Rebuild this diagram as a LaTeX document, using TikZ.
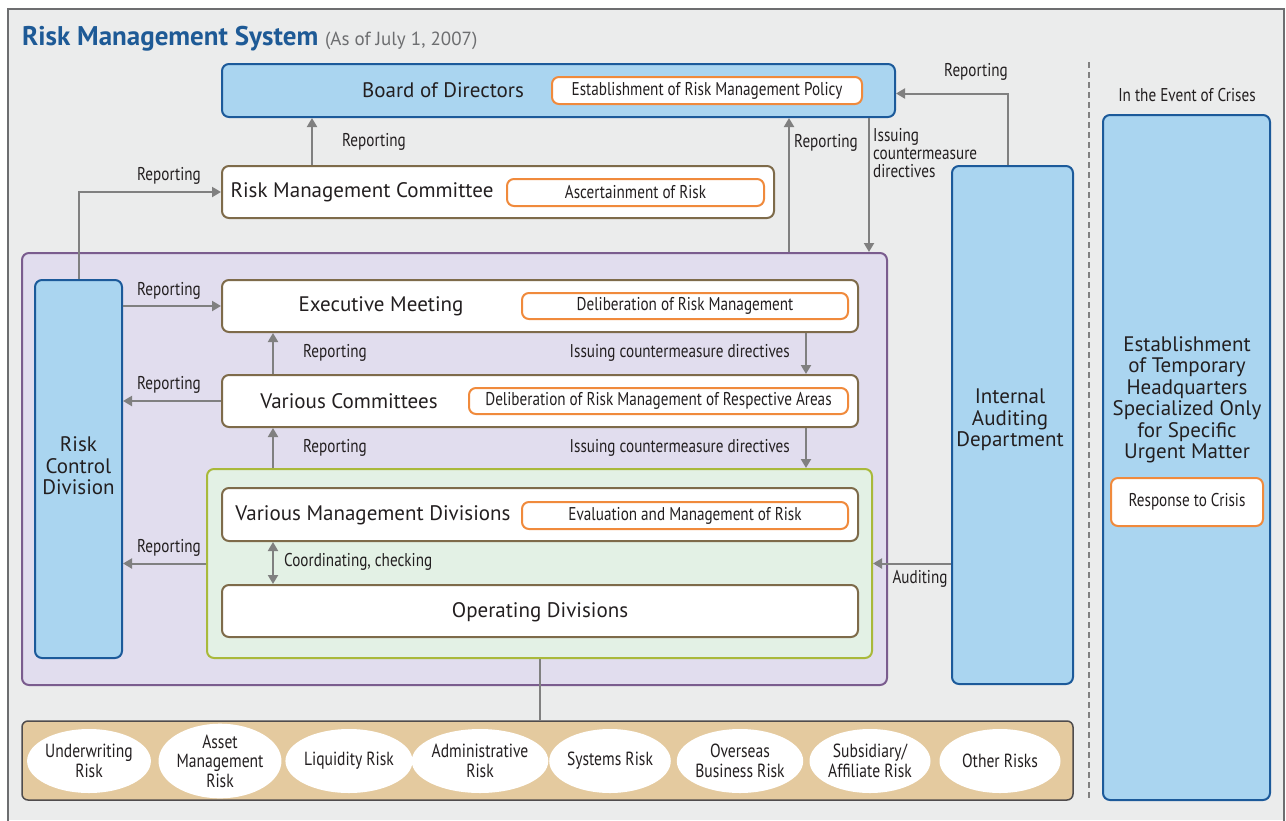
\documentclass[tikz,border=0pt]{standalone}
\usepackage{fontspec}
\setmainfont{PT Sans}
\newfontfamily\narrowfont[FakeStretch=0.82]{PT Sans}
\usetikzlibrary{arrows.meta}
\definecolor{pagegrey}{HTML}{EBECEC}
\definecolor{framegrey}{HTML}{6D6E70}
\definecolor{titleblue}{HTML}{1E5A96}
\definecolor{blueF}{HTML}{AAD5F0}
\definecolor{blueD}{HTML}{1C5A9A}
\definecolor{brownD}{HTML}{7E6B4A}
\definecolor{orangeD}{HTML}{F08A3C}
\definecolor{purpleF}{HTML}{E1DDEE}
\definecolor{purpleD}{HTML}{7A5C8E}
\definecolor{greenF}{HTML}{E3F1E5}
\definecolor{greenD}{HTML}{A9B93A}
\definecolor{tanF}{HTML}{E4CA9F}
\definecolor{arrgrey}{HTML}{808080}
\definecolor{inkD}{HTML}{231F20}
\tikzset{
  box/.style={rounded corners=7pt, line width=2pt, inner sep=0pt},
  bluebox/.style={box, fill=blueF, draw=blueD},
  whitebox/.style={box, fill=white, draw=brownD},
  tagbox/.style={box, fill=white, draw=orangeD, text=inkD,
    font=\narrowfont\fontsize{18.5}{20}\selectfont},
  bigtext/.style={text=inkD, inner sep=0pt, align=center,
    font=\fontsize{21}{21.5}\selectfont},
  lbl/.style={text=inkD, inner sep=0pt, align=left,
    font=\narrowfont\fontsize{18.5}{20}\selectfont},
  riskball/.style={ellipse, fill=white, inner sep=0pt, minimum width=121pt,
    minimum height=64pt, align=center, text=inkD,
    font=\narrowfont\fontsize{19}{19.5}\selectfont},
  arr/.style={draw=arrgrey, line width=2pt, -{Triangle[length=9pt,width=10pt]}},
  arrtwo/.style={draw=arrgrey, line width=2pt,
    {Triangle[length=9pt,width=10pt]}-{Triangle[length=9pt,width=10pt]}},
  link/.style={draw=arrgrey, line width=2pt},
}
\usetikzlibrary{shapes.geometric}
\begin{document}
\begin{tikzpicture}[x=1pt,y=-1pt]
\useasboundingbox (0,0) rectangle (1286,820);
% page frame
\fill[pagegrey] (8,9) rectangle (1284,820);
\draw[framegrey, line width=1.5pt] (8,822) -- (8,9) -- (1284,9) -- (1284,822);
\node[anchor=base west, inner sep=0pt] (title) at (22,45)
  {\fontsize{27}{30}\selectfont\bfseries\color{titleblue}Risk Management System
   \fontsize{19}{22}\mdseries\color{framegrey}(As of July 1, 2007)};

% containers
\node[box, fill=purpleF, draw=purpleD, minimum width=865pt, minimum height=432pt] (purple) at (454.5,469) {};
\node[box, fill=greenF, draw=greenD, minimum width=665pt, minimum height=189pt] (green) at (539.5,563.5) {};

% top level
\node[bluebox, minimum width=673pt, minimum height=53pt] (bod) at (558.5,90.5) {};
\node[bigtext] (bodtxt) at (443,90.5) {Board of Directors};
\node[tagbox, minimum width=310pt, minimum height=27pt] (bodtag) at (707,90.5) {Establishment of Risk Management Policy};

\node[whitebox, minimum width=552pt, minimum height=52pt] (rmc) at (498,192) {};
\node[bigtext] (rmctxt) at (362,192.5) {Risk Management Committee};
\node[tagbox, minimum width=257pt, minimum height=27pt] (rmctag) at (635.5,192.5) {Ascertainment of Risk};

% inside purple
\node[bluebox, minimum width=87pt, minimum height=378pt] (rcd) at (78.5,469) {};
\node[bigtext] (rcdtxt) at (78.5,466) {Risk\\Control\\Division};

\node[whitebox, minimum width=636pt, minimum height=52pt] (em) at (540,306) {};
\node[bigtext] (emtxt) at (381,306.5) {Executive Meeting};
\node[tagbox, minimum width=326pt, minimum height=26pt] (emtag) at (685,306) {Deliberation of Risk Management};

\node[whitebox, minimum width=636pt, minimum height=52pt] (vc) at (540,401) {};
\node[bigtext] (vctxt) at (349,401.5) {Various Committees};
\node[tagbox, minimum width=379pt, minimum height=26pt] (vctag) at (658.5,401) {Deliberation of Risk Management of Respective Areas};

\node[whitebox, minimum width=636pt, minimum height=53pt] (vmd) at (540,514.5) {};
\node[bigtext] (vmdtxt) at (373,515.5) {Various Management Divisions};
\node[tagbox, minimum width=326pt, minimum height=27pt] (vmdtag) at (685,515.5) {Evaluation and Management of Risk};

\node[whitebox, minimum width=636pt, minimum height=52pt] (od) at (540,611) {};
\node[bigtext] (odtxt) at (540,612) {Operating Divisions};

% right side
\node[bluebox, minimum width=121pt, minimum height=518pt] (iad) at (1012.5,425) {};
\node[bigtext] (iadtxt) at (1010,420) {Internal\\Auditing\\Department};

\draw[arrgrey, line width=1.5pt, dash pattern=on 6pt off 4pt] (1089,62) -- (1089,800);
\node[lbl] (crisishead) at (1187,95) {In the Event of Crises};
\node[bluebox, minimum width=167pt, minimum height=685pt] (crisis) at (1186.5,457.5) {};
\node[bigtext] (crisistxt) at (1187,400) {Establishment\\of Temporary\\Headquarters\\Specialized Only\\for Specific\\Urgent Matter};
\node[tagbox, minimum width=152pt, minimum height=48pt] (crisistag) at (1187,502) {Response to Crisis};

% risk categories
\node[box, rounded corners=6pt, fill=tanF, draw=inkD!80, line width=1.5pt, minimum width=1051pt, minimum height=79pt] (riskbar) at (547.5,760.5) {};
\foreach \cx/\nm/\txt in {89/uw/{Underwriting\\Risk}, 220/am/{Asset\\Management\\Risk},
    349/lq/{Liquidity Risk}, 480/ad/{Administrative\\Risk}, 610/sy/{Systems Risk},
    740/ov/{Overseas\\Business Risk}, 870/sa/{Subsidiary/\\Affiliate Risk}, 1000/ot/{Other Risks}}
  \node[riskball] (\nm) at (\cx,761) {\txt};

% connectors
\draw[arr] ([xshift=91pt]rmc.north west) -- ([xshift=91pt]rmc.north west |- bod.south);
\node[lbl] (l1) at (374,142) {Reporting};
\draw[arr] (rcd.north) |- (rmc.west);
\node[lbl] (l2) at (169,176) {Reporting};
\draw[arr] (rcd.east |- em.west) -- (em.west);
\node[lbl] (l3) at (169,291) {Reporting};
\draw[arr] (vc.west) -- (vc.west -| rcd.east);
\node[lbl] (l4) at (169,385) {Reporting};
\draw[arr] ([xshift=52pt]vc.north west) -- ([xshift=52pt]em.south west);
\node[lbl] (l5) at (335,353) {Reporting};
\draw[arr] ([xshift=-53pt]em.south east) -- ([xshift=-53pt]vc.north east);
\node[lbl, anchor=east] (l6) at (790,353) {Issuing countermeasure directives};
\draw[arr] ([xshift=52pt]vc.south west |- green.north) -- ([xshift=52pt]vc.south west);
\node[lbl] (l7) at (335,448) {Reporting};
\draw[arr] ([xshift=-53pt]vc.south east) -- ([xshift=-53pt]vc.south east |- green.north);
\node[lbl, anchor=east] (l8) at (790,448) {Issuing countermeasure directives};
\draw[arrtwo] ([xshift=52pt]vmd.south west) -- ([xshift=52pt]od.north west);
\node[lbl, anchor=west] (l9) at (284,562) {Coordinating, checking};
\draw[arr] (green.west) -- (green.west -| rcd.east);
\node[lbl] (l10) at (169,548) {Reporting};
\draw[arr] ([xshift=-4.5pt]iad.north) |- ([yshift=-3pt]bod.east);
\node[lbl] (l11) at (976,72) {Reporting};
\draw[arr] (iad.west |- green.east) -- (green.east);
\node[lbl] (l12) at (920,579) {Auditing};
\draw[arr] ([xshift=-27pt]bod.south east) -- ([xshift=-27pt]bod.south east |- purple.north);
\node[lbl, anchor=west] (l13) at (873,153) {Issuing\\[-2pt]countermeasure\\[-2pt]directives};
\draw[arr] ([xshift=-107pt]bod.south east |- purple.north) -- ([xshift=-107pt]bod.south east);
\node[lbl] (l14) at (826,143) {Reporting};
\draw[link] (green.south) -- (green.south |- riskbar.north);
\end{tikzpicture}
\end{document}
